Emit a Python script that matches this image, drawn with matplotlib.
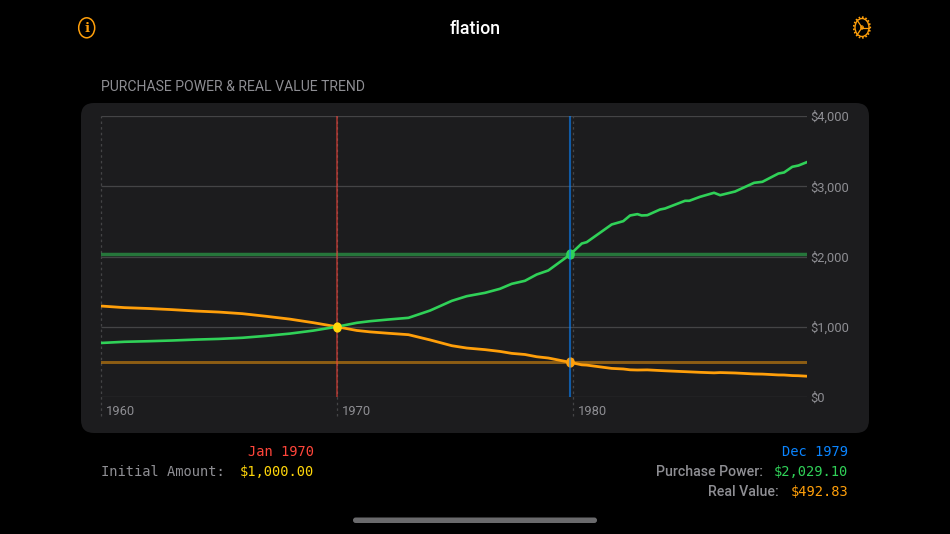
import matplotlib
matplotlib.use('Agg')
import matplotlib.pyplot as plt
from matplotlib.markers import MarkerStyle
from matplotlib.patches import FancyBboxPatch, Ellipse
from matplotlib.transforms import Affine2D, ScaledTranslation

power_dates = [1960, 1961, 1962, 1963, 1964, 1965, 1966, 1967, 1968, 1969, 1970.0,
               1970.85, 1971.41, 1972.19, 1973.04, 1973.96, 1974.88, 1975.51, 1976.29,
               1976.92, 1977.42, 1977.98, 1978.48, 1978.97, 1979.9, 1980.39, 1980.6,
               1981.66, 1982.15, 1982.44, 1982.75, 1982.93, 1983.17, 1983.71, 1983.92,
               1984.77, 1984.95, 1985.41, 1986.0, 1986.26, 1986.89, 1987.7, 1988.05,
               1988.73, 1988.97, 1989.32, 1989.58, 1989.93]
power_values = [769, 786, 794, 804, 817, 827, 843, 870, 902, 945, 1000,
                1056, 1079, 1103, 1127, 1231, 1369, 1435, 1483,
                1540, 1611, 1654, 1744, 1801, 2029, 2185, 2204,
                2456, 2503, 2584, 2603, 2584, 2588, 2669, 2683,
                2793, 2793, 2850, 2907, 2873, 2925, 3049, 3063,
                3181, 3196, 3277, 3295, 3342]

real_dates = [1960, 1961, 1962, 1963, 1964, 1965, 1966, 1967, 1968, 1969, 1970.0,
              1970.85, 1971.41, 1972.19, 1973.04, 1973.96, 1974.88, 1975.51, 1976.29,
              1976.92, 1977.42, 1977.98, 1978.48, 1978.97, 1979.9, 1980.39, 1980.6,
              1981.66, 1982.15, 1982.44, 1982.75, 1983.17, 1983.92, 1984.95, 1985.41,
              1986.0, 1986.26, 1986.89, 1987.7, 1988.05, 1988.73, 1988.97, 1989.32,
              1989.58, 1989.93]
real_values = [1295, 1272, 1260, 1244, 1224, 1209, 1186, 1149, 1109, 1058, 1000,
               947, 927, 907, 887, 812, 730, 697, 674,
               649, 621, 605, 573, 555, 493, 458, 454,
               407, 399, 387, 384, 386, 373, 358, 351,
               344, 348, 342, 328, 326, 314, 313, 305,
               303, 296]

start_date = 1970.0
end_date = 1979.9
start_amount = 1000
end_power = 2029.1
end_real = 492.83

year_ticks = [1960, 1970, 1980]
year_labels = ['1960', '1970', '1980']
value_ticks = [0, 1000, 2000, 3000, 4000]
value_labels = ['$0', '$1,000', '$2,000', '$3,000', '$4,000']

GREEN = '#30d158'
ORANGE = '#ff9f0a'
YELLOW = '#ffd60a'
RED = '#ff453a'
BLUE = '#0a84ff'
GRAY = '#8e8e93'
GRID = '#444446'
W, H = 950, 534

plt.rcParams['font.family'] = ['Roboto', 'DejaVu Sans']
fig = plt.figure(figsize=(W / 100, H / 100), dpi=100, facecolor='black')

# page layer in pixel coordinates
page = fig.add_axes([0, 0, 1, 1], zorder=0)
page.set_xlim(0, W)
page.set_ylim(H, 0)
page.axis('off')
page.add_patch(FancyBboxPatch((81, 103), 788, 330, boxstyle='round,pad=0,rounding_size=13',
                              fc='#1c1c1e', ec='none'))
page.add_patch(FancyBboxPatch((353, 517.5), 244, 5.5, boxstyle='round,pad=0,rounding_size=2.7',
                              fc='#6a6a6c', ec='none'))

page.text(475, 29, 'flation', color='white', fontsize=12.8, fontweight='medium', ha='center', va='center')
page.text(101, 87, 'PURCHASE POWER & REAL VALUE TREND', color=GRAY, fontsize=10.1, ha='left', va='center')

# info icon
page.add_patch(Ellipse((86.7, 27.8), 16, 20, fc='none', ec=ORANGE, lw=1.1))
page.text(86.7, 28.2, 'i', color=ORANGE, fontsize=9.5, fontweight='bold', ha='center', va='center',
          family='DejaVu Serif')

# gear icon
page.add_patch(Ellipse((862, 27.5), 14, 18, fc='none', ec=ORANGE, lw=1))
page.add_patch(Ellipse((862, 27.5), 16.4, 20.6, fc='none', ec=ORANGE, lw=1.3, ls=(0, (0.9, 1.0))))
page.add_patch(Ellipse((862, 27.5), 2.6, 3.2, fc='none', ec=ORANGE, lw=0.8))
page.plot([862, 869], [27.5, 27.5], color=ORANGE, lw=0.9)
page.plot([862, 857], [27.5, 20], color=ORANGE, lw=0.9)
page.plot([862, 857], [27.5, 35], color=ORANGE, lw=0.9)

mono = 'DejaVu Sans Mono'
page.text(314, 451.5, 'Jan 1970', color=RED, fontsize=9.9, family=mono, ha='right', va='center')
page.text(101, 471.5, 'Initial Amount:', color=GRAY, fontsize=9.9, family=mono, ha='left', va='center')
page.text(314, 471.5, '${:,.2f}'.format(start_amount), color=YELLOW, fontsize=9.9, family=mono, ha='right', va='center')
page.text(848, 451.5, 'Dec 1979', color=BLUE, fontsize=9.9, family=mono, ha='right', va='center')
page.text(763, 471.5, 'Purchase Power:', color=GRAY, fontsize=10.2, fontweight='medium', ha='right', va='center')
page.text(848, 471.5, '${:,.2f}'.format(end_power), color=GREEN, fontsize=9.9, family=mono, ha='right', va='center')
page.text(779, 492, 'Real Value:', color=GRAY, fontsize=10.2, fontweight='medium', ha='right', va='center')
page.text(848, 492, '${:,.2f}'.format(end_real), color=ORANGE, fontsize=9.9, family=mono, ha='right', va='center')

# chart
ax = fig.add_axes([101 / W, 1 - 397 / H, (806.7 - 101) / W, (397 - 116) / H], zorder=1)
ax.patch.set_alpha(0)
ax.set_xlim(1960, 1989.93)
ax.set_ylim(0, 4000)
for s in ax.spines.values():
    s.set_visible(False)

ax.set_yticks(value_ticks)
ax.set_yticklabels(value_labels)
ax.set_xticks(year_ticks)
ax.set_xticklabels(year_labels, ha='left')
ax.yaxis.tick_right()
ax.tick_params(axis='both', length=0, labelcolor=GRAY, labelsize=9.3)
ax.tick_params(axis='y', pad=2.5)
ax.tick_params(axis='x', pad=6)
shift = ScaledTranslation(5 / 100, 0, fig.dpi_scale_trans)
for lab in ax.get_xticklabels():
    lab.set_transform(lab.get_transform() + shift)

ax.hlines(value_ticks, 1960, 1989.93, color=GRID, lw=0.9, zorder=1)
ax.vlines(year_ticks, -275, 4000, color=GRID, lw=0.9, ls=(0, (2, 2.5)), clip_on=False, zorder=1)

ax.axhline(end_power, color=GREEN, alpha=0.5, lw=2.5, zorder=2)
ax.axhline(end_real, color=ORANGE, alpha=0.5, lw=2.1, zorder=2)

ax.plot(real_dates, real_values, color=ORANGE, lw=2, zorder=3, solid_joinstyle='round')
ax.plot(power_dates, power_values, color=GREEN, lw=1.9, zorder=3, solid_joinstyle='round')

# the screenshot is stretched a bit, so the dots are taller than wide
dot = MarkerStyle('o', transform=Affine2D().scale(0.85, 1))
ax.plot([start_date], [start_amount], marker=dot, color=YELLOW, ms=7.4, mew=0, zorder=5, clip_on=False)
ax.plot([end_date], [end_power], marker=dot, color=GREEN, ms=7.4, mew=0, zorder=4)
ax.plot([end_date], [end_real], marker=dot, color=ORANGE, ms=7.4, mew=0, zorder=4)

ax.axvline(start_date, color=RED, alpha=0.55, lw=1.3, zorder=4)
ax.axvline(end_date, color=BLUE, alpha=0.6, lw=1.5, zorder=4.5)

plt.savefig('out.png', dpi=100, facecolor='black')
